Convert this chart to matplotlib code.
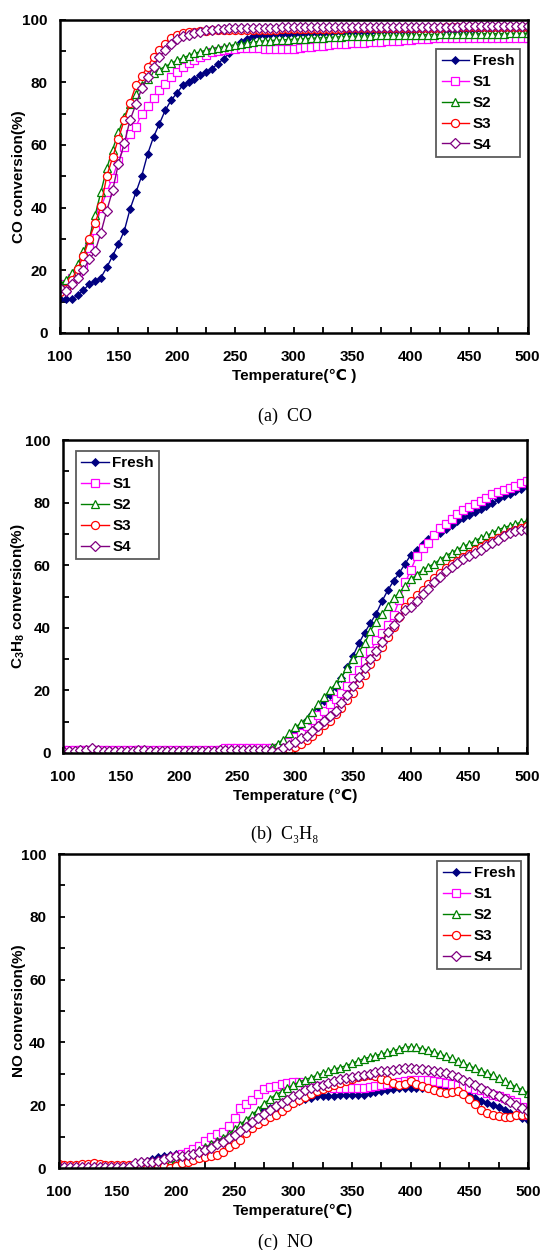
import numpy as np
import matplotlib
matplotlib.use("Agg")
import matplotlib.pyplot as plt
from matplotlib.ticker import MultipleLocator

plt.rcParams['font.family'] = ['Liberation Sans', 'DejaVu Sans']
plt.rcParams['font.weight'] = 'bold'
plt.rcParams['mathtext.fontset'] = 'custom'
plt.rcParams['mathtext.rm'] = 'Liberation Sans:bold'
plt.rcParams['mathtext.it'] = 'Liberation Sans:bold'
plt.rcParams['mathtext.bf'] = 'Liberation Sans:bold'

# ---------------- data ----------------
temperature = list(range(100, 501, 5))
series_names = ["Fresh", "S1", "S2", "S3", "S4"]

co_fresh = [11.0, 10.7, 10.8, 12.0, 13.6, 15.6, 16.6, 17.7, 20.9, 24.6, 28.4, 32.6, 39.6, 44.9, 50.2, 57.1, 62.5, 66.7, 71.0, 74.2,
            76.5, 79.0, 80.1, 81.1, 82.2, 83.3, 84.3, 85.9, 87.5, 89.3, 91.3, 92.9, 93.9, 94.7, 95.0, 95.2, 95.3, 95.4, 95.4, 95.5,
            95.5, 95.6, 95.6, 95.7, 95.7, 95.8, 95.8, 95.9, 95.9, 96.0, 96.0, 96.0, 96.1, 96.1, 96.2, 96.2, 96.3, 96.3, 96.3, 96.4,
            96.4, 96.5, 96.5, 96.5, 96.6, 96.6, 96.7, 96.7, 96.7, 96.8, 96.8, 96.8, 96.9, 96.9, 96.9, 97.0, 97.0, 97.0, 97.1, 97.1, 97.1]
co_s1 = [15.6, 14.0, 17.7, 19.5, 22.0, 27.0, 33.0, 40.0, 45.0, 49.5, 55.0, 59.3, 63.5, 65.8, 70.0, 72.5, 75.0, 77.4, 79.5, 81.8,
         83.2, 84.8, 86.0, 87.2, 88.0, 88.8, 89.5, 89.9, 90.2, 90.5, 90.7, 90.8, 90.8, 90.8, 90.8, 90.7, 90.7, 90.6, 90.6, 90.6,
         90.7, 90.9, 91.1, 91.3, 91.5, 91.7, 91.9, 92.1, 92.2, 92.3, 92.4, 92.5, 92.6, 92.7, 92.8, 92.9, 93.0, 93.1, 93.3, 93.4,
         93.6, 93.7, 93.8, 93.9, 94.0, 94.0, 94.0, 94.0, 94.0, 94.0, 94.0, 94.0, 94.0, 94.0, 94.0, 94.0, 94.0, 94.0, 94.0, 94.0, 94.0]
co_s2 = [15.5, 17.0, 19.0, 22.0, 26.0, 30.0, 37.5, 45.0, 52.5, 58.5, 64.0, 69.0, 73.0, 76.2, 79.0, 81.0, 82.8, 84.0, 85.0, 86.0,
         87.0, 87.7, 88.5, 89.2, 89.7, 90.2, 90.7, 91.0, 91.3, 91.6, 92.0, 92.3, 92.6, 92.8, 93.0, 93.2, 93.3, 93.4, 93.5, 93.6,
         93.7, 93.8, 93.9, 94.0, 94.1, 94.2, 94.3, 94.4, 94.5, 94.6, 94.7, 94.7, 94.8, 94.8, 94.9, 94.9, 95.0, 95.0, 95.0, 95.1,
         95.1, 95.1, 95.2, 95.2, 95.2, 95.3, 95.3, 95.3, 95.4, 95.4, 95.4, 95.4, 95.5, 95.5, 95.5, 95.5, 95.5, 95.6, 95.6, 95.6, 95.6]
co_s3 = [13.0, 14.0, 17.0, 20.5, 24.5, 30.0, 35.0, 40.5, 50.0, 56.0, 62.0, 68.0, 73.5, 79.0, 82.0, 85.0, 88.0, 90.2, 92.3, 94.0,
         95.2, 95.7, 96.0, 96.1, 96.3, 96.4, 96.5, 96.5, 96.5, 96.6, 96.6, 96.6, 96.7, 96.7, 96.7, 96.8, 96.8, 96.8, 96.9, 96.9,
         96.9, 97.0, 97.0, 97.0, 97.0, 97.1, 97.1, 97.1, 97.1, 97.2, 97.2, 97.2, 97.2, 97.2, 97.3, 97.3, 97.3, 97.3, 97.3, 97.3,
         97.4, 97.4, 97.4, 97.4, 97.4, 97.4, 97.5, 97.5, 97.5, 97.5, 97.5, 97.5, 97.5, 97.6, 97.6, 97.6, 97.6, 97.6, 97.6, 97.7, 97.7]
co_s4 = [14.5, 13.4, 15.5, 17.5, 20.0, 23.5, 26.0, 32.0, 39.0, 45.5, 54.0, 60.5, 68.0, 73.0, 78.0, 81.5, 85.0, 88.0, 90.2, 92.3,
         93.8, 94.6, 95.2, 95.7, 96.1, 96.5, 96.8, 97.0, 97.1, 97.2, 97.2, 97.3, 97.3, 97.3, 97.4, 97.4, 97.4, 97.4, 97.5, 97.5,
         97.5, 97.5, 97.5, 97.5, 97.6, 97.6, 97.6, 97.6, 97.6, 97.6, 97.7, 97.7, 97.7, 97.7, 97.7, 97.7, 97.7, 97.7, 97.7, 97.7,
         97.7, 97.7, 97.7, 97.7, 97.7, 97.7, 97.7, 97.7, 97.7, 97.8, 97.8, 97.8, 97.8, 97.8, 97.8, 97.8, 97.8, 97.8, 97.8, 97.8, 97.8]

c3h8_fresh = [0.5] * 36 + [
    1.0, 2.0, 3.5, 5.0, 6.8,
    8.5, 10.5, 12.5, 14.8, 16.5, 18.5, 21.0, 24.0, 27.5, 31.0,
    35.0, 38.4, 41.5, 44.5, 48.5, 52.0, 55.0, 57.6, 60.5, 63.4,
    65.0, 66.8, 68.3, 69.5, 70.4, 71.6, 72.8, 74.0, 75.0, 76.0,
    77.0, 77.8, 78.8, 79.8, 81.0, 82.0, 82.8, 83.6, 84.5, 85.3]
c3h8_s1 = [0.8] * 28 + [1.5] * 8 + [
    1.5, 1.5, 2.0, 3.5, 5.0,
    6.5, 8.5, 10.5, 12.0, 13.5, 15.5, 17.3, 19.3, 21.5, 24.0,
    26.5, 29.5, 32.5, 36.0, 38.4, 41.0, 44.0, 49.0, 54.5, 58.6,
    63.0, 65.5, 67.0, 69.5, 71.8, 73.3, 74.8, 76.2, 77.5, 78.5,
    79.6, 80.6, 81.6, 82.6, 83.3, 84.0, 84.6, 85.4, 86.2, 86.9]
c3h8_s2 = [0.3] * 35 + [1.0] + [
    2.0, 3.0, 4.3, 6.3, 8.2,
    9.5, 11.0, 13.0, 15.5, 18.0, 20.0, 22.0, 24.3, 27.0, 30.0,
    32.3, 35.0, 39.0, 42.0, 44.5, 47.0, 49.5, 51.2, 53.5, 55.5,
    57.0, 58.5, 59.5, 60.5, 61.8, 63.0, 64.0, 65.0, 66.0, 66.8,
    67.8, 68.7, 69.5, 70.3, 71.3, 72.0, 72.6, 73.2, 73.7, 74.0]
c3h8_s3 = [0.0] * 37 + [
    0.3, 0.8, 1.3, 2.0,
    3.0, 4.2, 5.5, 7.0, 8.8, 10.3, 12.5, 14.5, 16.8, 19.3,
    22.0, 25.0, 28.5, 31.0, 34.0, 37.0, 40.3, 43.5, 46.5, 48.5,
    50.5, 52.2, 54.0, 55.8, 57.5, 59.2, 60.4, 61.5, 62.6, 63.5,
    64.8, 65.8, 66.8, 67.7, 68.7, 69.7, 70.6, 71.4, 72.0, 72.5]
c3h8_s4 = [0.7, 0.7, 0.7, 0.8, 0.9, 1.5, 0.8, 0.7, 0.7, 0.7, 0.7, 0.7, 0.7, 0.8, 0.8, 0.7, 0.7, 0.7,
           0.7, 0.7, 0.7, 0.7, 0.7, 0.7, 0.7, 0.7, 0.7, 0.8, 0.8, 0.9, 1.0, 1.0, 1.0, 1.0, 1.0, 1.0] + [
    0.5, 0.3, 1.5, 2.5, 3.5,
    4.8, 5.5, 7.0, 8.5, 10.2, 11.8, 13.5, 16.0, 18.5, 21.3,
    24.2, 27.0, 30.0, 32.7, 35.5, 38.5, 41.0, 43.5, 45.8, 46.5,
    48.5, 50.8, 52.5, 54.5, 56.3, 58.0, 59.5, 60.8, 62.0, 63.0,
    64.0, 65.0, 66.2, 67.2, 68.2, 69.2, 70.4, 70.8, 71.2, 71.4]

no_fresh = [0.2] * 13 + [
    1.0, 1.8, 2.2, 3.0, 3.5, 3.8, 4.2, 4.4, 4.5, 4.8,
    5.4, 6.2, 6.9, 7.8, 8.6, 9.5, 10.3, 11.0, 12.8, 14.6,
    16.2, 17.5, 18.5, 19.2, 19.6, 20.0, 20.4, 20.7, 21.3, 21.9,
    22.3, 22.8, 22.8, 22.8, 23.0, 23.3, 23.3, 23.3, 23.3, 23.4,
    23.8, 24.2, 24.6, 25.0, 25.3, 25.4, 25.4, 25.4, 25.4, 25.4,
    25.4, 25.6, 25.9, 26.0, 25.4, 24.8, 24.0, 23.2, 22.2, 21.3,
    20.6, 20.0, 19.4, 18.6, 17.6, 16.8, 16.0, 15.4]
no_s1 = [0.0] * 16 + [
    0.2, 0.8, 1.5, 2.5, 3.5, 4.5, 5.2, 6.0, 7.0, 8.5,
    9.8, 10.8, 11.5, 13.5, 16.0, 19.0, 20.5, 21.5, 23.5, 25.2,
    25.8, 26.2, 26.6, 27.0, 27.5, 27.3, 26.8, 26.5, 26.2, 26.0,
    25.8, 25.6, 25.4, 25.4, 25.4, 25.4, 25.5, 25.7, 26.0, 26.3,
    26.6, 27.0, 27.4, 27.7, 28.0, 28.0, 28.0, 28.0, 27.8, 27.5,
    27.0, 26.8, 26.4, 26.0, 25.6, 25.2, 24.8, 24.0, 23.3, 22.8,
    22.3, 21.7, 21.0, 19.5, 17.0]
no_s2 = [0.0] * 15 + [
    0.2, 0.4, 0.6, 1.0, 1.6, 2.2, 3.0, 4.0, 4.8, 5.6,
    6.6, 7.6, 8.6, 9.5, 10.8, 12.3, 13.8, 15.4, 17.0, 18.6,
    20.5, 22.0, 23.3, 24.3, 25.4, 26.5, 27.3, 28.1, 28.8, 29.5,
    30.2, 30.9, 31.5, 32.0, 32.6, 33.3, 34.1, 34.8, 35.3, 35.8,
    36.3, 36.8, 37.3, 37.9, 38.5, 38.6, 38.4, 38.0, 37.5, 36.9,
    36.3, 35.6, 34.9, 34.1, 33.3, 32.5, 31.8, 31.0, 30.3, 29.5,
    28.6, 27.6, 26.8, 25.8, 24.9, 23.9]
no_s3 = [1.2, 1.0, 0.8, 1.0, 1.2, 1.3, 1.5, 1.2, 1.0, 0.8, 1.0, 1.1, 0.9, 0.5] + [
    0.2, 0.0, 0.0, 0.2, 0.5, 0.0, 0.5, 1.5, 2.0, 2.6,
    3.2, 3.6, 3.8, 4.2, 5.2, 6.6, 7.6, 8.8, 11.2, 12.8,
    14.0, 15.0, 16.2, 17.0, 18.2, 19.4, 20.6, 21.7, 22.7, 23.6,
    24.4, 25.1, 25.8, 26.4, 27.1, 27.8, 28.5, 29.0, 29.4, 29.7,
    29.2, 28.5, 27.9, 27.0, 26.5, 26.8, 27.6, 26.8, 26.0, 25.4,
    24.8, 24.2, 23.8, 24.2, 24.4, 23.5, 22.0, 20.3, 18.6, 17.6,
    17.0, 16.6, 16.4, 16.4, 16.8, 17.0, 17.0]
no_s4 = [0.3] * 13 + [
    1.6, 1.8, 1.8, 2.0, 2.2, 2.8, 3.5, 3.8, 3.9, 4.1,
    4.5, 5.0, 5.7, 6.5, 7.5, 8.4, 9.4, 10.5, 11.7, 13.0,
    14.5, 15.9, 17.2, 18.5, 19.6, 20.6, 21.7, 22.8, 23.7, 24.7,
    25.5, 26.0, 26.5, 27.0, 27.7, 28.3, 28.6, 28.9, 29.2, 29.5,
    29.8, 30.5, 30.8, 31.0, 31.3, 31.5, 31.8, 31.7, 31.5, 31.4,
    31.3, 31.0, 30.7, 30.2, 29.6, 29.0, 28.1, 27.3, 26.4, 25.4,
    24.5, 23.6, 22.8, 21.9, 21.0, 20.2, 19.0, 18.0]

x_ticks = [100, 150, 200, 250, 300, 350, 400, 450, 500]
y_ticks = [0, 20, 40, 60, 80, 100]

# ---------------- styles ----------------
styles = {
    "Fresh": dict(color="#000080", marker="D", ms=3.6, mfc="#000080", mec="#000080", mew=0.6),
    "S1": dict(color="#FF00FF", marker="s", ms=5.4, mfc="white", mec="#FF00FF", mew=0.9),
    "S2": dict(color="#008000", marker="^", ms=5.8, mfc="white", mec="#008000", mew=0.9),
    "S3": dict(color="#FF0000", marker="o", ms=5.8, mfc="white", mec="#FF0000", mew=0.9),
    "S4": dict(color="#800080", marker="D", ms=4.6, mfc="white", mec="#800080", mew=0.9),
}

fig = plt.figure(figsize=(5.4, 12.5), dpi=100)
W, H = 540.0, 1250.0

panels = [
    dict(box=(60, 527.5, 19.5, 333),
         data=[co_fresh, co_s1, co_s2, co_s3, co_s4],
         ylabel="CO conversion(%)", xlabel="Temperature(\u2103 )",
         ylab_right=26, leg_loc="upper right", leg_corner=(519.5, 49),
         caption="(a)  CO", cap_y=416),
    dict(box=(63, 527, 440, 753),
         data=[c3h8_fresh, c3h8_s1, c3h8_s2, c3h8_s3, c3h8_s4],
         ylabel="C$_{\\rm 3}$H$_{\\rm 8}$ conversion(%)", xlabel="Temperature (\u2103)",
         ylab_right=27.5, leg_loc="upper left", leg_corner=(76, 451),
         caption="(b)  C\u2083H\u2088", cap_y=834),
    dict(box=(58.5, 528, 854, 1168),
         data=[no_fresh, no_s1, no_s2, no_s3, no_s4],
         ylabel="NO conversion(%)", xlabel="Temperature(\u2103)",
         ylab_right=26, leg_loc="upper right", leg_corner=(520.5, 861),
         caption="(c)  NO", cap_y=1242),
]

for p in panels:
    x0, x1, y0, y1 = p["box"]
    ax = fig.add_axes([x0 / W, 1 - y1 / H, (x1 - x0) / W, (y1 - y0) / H])
    for name, ys in zip(series_names, p["data"]):
        st = styles[name]
        ax.plot(temperature, ys, color=st["color"], lw=1.0, marker=st["marker"],
                markersize=st["ms"], markerfacecolor=st["mfc"],
                markeredgecolor=st["mec"], markeredgewidth=st["mew"], label=name)
    ax.set_xlim(100, 500)
    ax.set_ylim(0, 100)
    ax.set_xticks(x_ticks)
    ax.set_yticks(y_ticks)
    ax.xaxis.set_minor_locator(MultipleLocator(25))
    ax.yaxis.set_minor_locator(MultipleLocator(10))
    ax.tick_params(axis="both", which="both", direction="in", top=False, right=False,
                   length=4, width=1.3, labelsize=11)
    ax.tick_params(axis="x", which="major", pad=12)
    ax.tick_params(axis="y", which="major", pad=9)
    for lab in ax.get_xticklabels() + ax.get_yticklabels():
        lab.set_fontweight("bold")
    for sp in ax.spines.values():
        sp.set_linewidth(1.8)
        sp.set_color("black")
    ax.set_xlabel(p["xlabel"], fontsize=11, fontweight="bold")
    ax.xaxis.set_label_coords(0.5, -0.115)
    ax.set_ylabel(p["ylabel"], fontsize=11, fontweight="bold")
    ax.yaxis.set_label_coords((p["ylab_right"] - x0) / (x1 - x0), 0.5)
    cx, cy = p["leg_corner"]
    anchor = ((cx - x0) / (x1 - x0), (y1 - cy) / (y1 - y0))
    leg = ax.legend(loc=p["leg_loc"], bbox_to_anchor=anchor, frameon=True,
                    fancybox=False, edgecolor="#333333",
                    prop=dict(weight="bold", size=11),
                    labelspacing=0.45, handlelength=1.8, handletextpad=0.22,
                    borderpad=0.35, borderaxespad=0.0)
    leg.get_frame().set_linewidth(1.3)
    fig.text(0.528, 1 - p["cap_y"] / H, p["caption"], ha="center", va="center", fontsize=13,
             fontweight="normal", family=["Liberation Serif", "DejaVu Serif"])

fig.savefig("out.png", dpi=100)
